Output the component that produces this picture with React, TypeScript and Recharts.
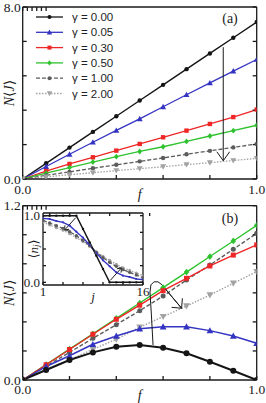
import { LineChart, Line, XAxis, YAxis, Legend, ReferenceLine } from 'recharts'

const SERIF = '"Liberation Serif", "DejaVu Serif", serif'
const SANS = '"Liberation Sans", Arial, sans-serif'
const INK = '#1a1a1a'

const F = [0, 0.1, 0.2, 0.3, 0.4, 0.5, 0.6, 0.7, 0.8, 0.9, 1]
const F_TICKS = [0, 0.2, 0.4, 0.6, 0.8, 1]

// panel (a)
const A_G000 = [0, 0.73, 1.46, 2.19, 2.92, 3.65, 4.38, 5.11, 5.84, 6.57, 7.3]
const A_G005 = [0, 0.58, 1.15, 1.71, 2.26, 2.8, 3.36, 3.92, 4.47, 5.02, 5.56]
const A_G030 = [0, 0.37, 0.7, 1.01, 1.32, 1.63, 1.94, 2.25, 2.56, 2.88, 3.23]
const A_G050 = [0, 0.27, 0.53, 0.79, 1.04, 1.28, 1.5, 1.75, 2.0, 2.25, 2.5]
const A_G100 = [0, 0.17, 0.33, 0.5, 0.66, 0.82, 0.98, 1.15, 1.31, 1.47, 1.63]
const A_G200 = [0, 0.1, 0.2, 0.29, 0.39, 0.48, 0.57, 0.67, 0.76, 0.86, 0.96]
const A_TICKS = [0, 1.6, 3.2, 4.8, 6.4, 8]
const A_ARROW = [{ x: 0.857, y: 6.13 }, { x: 0.857, y: 0.85 }]

// panel (b)
const B_G000 = [0, 0.069, 0.138, 0.19, 0.229, 0.241, 0.222, 0.184, 0.126, 0.064, 0]
const B_G005 = [0, 0.093, 0.167, 0.246, 0.303, 0.353, 0.367, 0.367, 0.34, 0.303, 0.253]
const B_G030 = [0, 0.105, 0.21, 0.315, 0.418, 0.515, 0.615, 0.7, 0.785, 0.86, 0.93]
const B_G050 = [0, 0.106, 0.213, 0.318, 0.424, 0.53, 0.636, 0.743, 0.85, 0.957, 1.065]
const B_G100 = [0, 0.095, 0.19, 0.287, 0.381, 0.477, 0.578, 0.688, 0.792, 0.9, 1.01]
const B_G200 = [0, 0.074, 0.138, 0.211, 0.28, 0.363, 0.436, 0.509, 0.585, 0.666, 0.746]
const B_TICKS = [0, 0.2, 0.4, 0.6, 0.8, 1, 1.2]
// hooked arrow (data coords)
const HOOK_F = [0.557, 0.55, 0.544, 0.548, 0.561, 0.578, 0.595, 0.608, 0.679]
const HOOK_V = [0.241, 0.448, 0.606, 0.655, 0.676, 0.676, 0.656, 0.63, 0.494]

// inset <n_j>
const J = [1, 2, 3, 4, 5, 6, 7, 8, 9, 10, 11, 12, 13, 14, 15, 16]
const N_G000 = [1, 1, 1, 1, 1, 1, 0.8, 0.6, 0.4, 0.2, 0, 0, 0, 0, 0, 0]
const N_G005 = [0.96, 0.95, 0.92, 0.9, 0.85, 0.76, 0.67, 0.56, 0.44, 0.33, 0.24, 0.15, 0.1, 0.08, 0.05, 0.04]
const N_G100 = [0.93, 0.89, 0.85, 0.81, 0.76, 0.7, 0.63, 0.55, 0.45, 0.37, 0.3, 0.24, 0.19, 0.15, 0.11, 0.07]
const N_G200 = [0.9, 0.86, 0.82, 0.78, 0.73, 0.67, 0.61, 0.54, 0.46, 0.39, 0.33, 0.27, 0.22, 0.18, 0.14, 0.1]
const J_TICKS = [1, 4, 7, 10, 13, 16]
const N_TICKS = [0, 0.25, 0.5, 0.75, 1]
const INSET_ARROWS = [
  [{ x: 5.9, y: 0.97 }, { x: 4.2, y: 0.78 }],
  [{ x: 11.1, y: 0.03 }, { x: 12.8, y: 0.22 }],
]

type Series = { key: string; name: string; color: string; shape: string; dash?: string }
const SERIES: Series[] = [
  { key: 'g000', name: 'γ = 0.00', color: '#151515', shape: 'circle' },
  { key: 'g005', name: 'γ = 0.05', color: '#3434c2', shape: 'triangle' },
  { key: 'g030', name: 'γ = 0.30', color: '#ee2626', shape: 'square' },
  { key: 'g050', name: 'γ = 0.50', color: '#2ec22e', shape: 'diamond' },
  { key: 'g100', name: 'γ = 1.00', color: '#5c5c5c', shape: 'circle', dash: '4 2' },
  { key: 'g200', name: 'γ = 2.00', color: '#a2a2a2', shape: 'triangleDown', dash: '1.5 1.5' },
]

const rowsA = F.map((f, i) => ({ f, g000: A_G000[i], g005: A_G005[i], g030: A_G030[i], g050: A_G050[i], g100: A_G100[i], g200: A_G200[i] }))
const rowsB = F.map((f, i) => ({ f, g000: B_G000[i], g005: B_G005[i], g030: B_G030[i], g050: B_G050[i], g100: B_G100[i], g200: B_G200[i] }))
const hook = HOOK_F.map((f, i) => ({ f, v: HOOK_V[i] }))
const rowsN = J.map((j, i) => ({ j, g000: N_G000[i], g005: N_G005[i], g100: N_G100[i], g200: N_G200[i] }))

const AXIS = { stroke: INK, strokeWidth: 1.3 }
const TICK = { fontSize: 13.5, fill: INK, fontFamily: SERIF }
const blank = () => ''
const ends = (lo: number, hi: number, d = 1) => (v: number) => (v === lo || v === hi ? v.toFixed(d) : '')

function Marker({ cx, cy, shape, color, r = 2.2 }: any) {
  if (cx == null || cy == null) return null
  if (shape === 'circle') return <circle cx={cx} cy={cy} r={r} fill={color} />
  if (shape === 'square') return <rect x={cx - r} y={cy - r} width={2 * r} height={2 * r} fill={color} />
  if (shape === 'diamond')
    return <polygon points={`${cx},${cy - r * 1.35} ${cx + r * 1.1},${cy} ${cx},${cy + r * 1.35} ${cx - r * 1.1},${cy}`} fill={color} />
  const d = shape === 'triangle' ? 1 : -1
  const h = r * 1.35
  return <polygon points={`${cx},${cy - d * h} ${cx - h},${cy + d * h * 0.8} ${cx + h},${cy + d * h * 0.8}`} fill={color} />
}

function Arrow({ x1, y1, x2, y2, head = 10, spread = 0.62, body = true, w = 1 }: any) {
  const a = Math.atan2(y2 - y1, x2 - x1)
  const p1 = [x2 - head * Math.cos(a - spread), y2 - head * Math.sin(a - spread)]
  const p2 = [x2 - head * Math.cos(a + spread), y2 - head * Math.sin(a + spread)]
  return (
    <g>
      {body && <line x1={x1} y1={y1} x2={x2} y2={y2} stroke={INK} strokeWidth={w} />}
      <polyline points={`${p1[0]},${p1[1]} ${x2},${y2} ${p2[0]},${p2[1]}`} fill="none" stroke={INK} strokeWidth={w} />
    </g>
  )
}

function XTitle({ viewBox, dy = 15.5, size = 14, text }: any) {
  const vb = viewBox ?? { x: 0, y: 0, width: 0, height: 0 }
  return (
    <text x={vb.x + vb.width / 2} y={vb.y + dy} textAnchor="middle" dominantBaseline="central"
      fontFamily={SERIF} fontSize={size} fontStyle="italic" fill={INK}>{text}</text>
  )
}

function NJTitle({ viewBox }: any) {
  const vb = viewBox ?? { x: 0, y: 0, width: 0, height: 0 }
  const cy = vb.y + vb.height / 2
  return (
    <text transform={`translate(9,${cy}) rotate(-90)`} textAnchor="middle" dominantBaseline="central"
      fontFamily={SERIF} fontSize={14} fill={INK}>
      <tspan fontStyle="italic">N</tspan>⟨<tspan fontStyle="italic">J</tspan>⟩
    </text>
  )
}

function NjTitle({ viewBox }: any) {
  const vb = viewBox ?? { x: 0, y: 0, width: 0, height: 0 }
  const cy = vb.y + vb.height / 2
  return (
    <text transform={`translate(33,${cy}) rotate(-90)`} textAnchor="middle" dominantBaseline="central"
      fontFamily={SERIF} fontSize={13} fill={INK}>
      ⟨<tspan fontStyle="italic">n</tspan><tspan fontStyle="italic" fontSize={9} dy={3}>j</tspan><tspan dy={-3}>⟩</tspan>
    </text>
  )
}

function LegendBox() {
  return (
    <svg width={90} height={95} style={{ display: 'block' }}>
      {SERIES.map((s, i) => {
        const y = 7 + i * 15.3
        return (
          <g key={s.key}>
            <line x1={0} x2={27} y1={y} y2={y} stroke={s.color} strokeWidth={1.3} strokeDasharray={s.dash} />
            <Marker cx={13.5} cy={y} shape={s.shape} color={s.color} r={2} />
            <text x={36} y={y} dominantBaseline="central" fontFamily={SANS} fontSize={11.5} fill="#222">{s.name}</text>
          </g>
        )
      })}
    </svg>
  )
}

function Tag({ x, y, text }: { x: number; y: number; text: string }) {
  return (
    <div style={{ position: 'absolute', left: x, top: y, transform: 'translate(-50%, -50%)', fontFamily: SERIF, fontSize: 14, color: INK, lineHeight: 1 }}>
      {text}
    </div>
  )
}

// axes have 1px thickness so that they render; margins shrink by the same 1px
export default function App() {
  return (
    <div style={{ position: 'absolute', left: 0, top: 0, width: 266, height: 403, background: '#fff' }}>
      <div style={{ position: 'absolute', left: 0, top: 0 }}>
        <LineChart width={266} height={204} data={rowsA} margin={{ top: 6, right: 8.3, bottom: 24, left: 21.7 }}>
          <XAxis dataKey="f" type="number" domain={[0, 1]} allowDataOverflow ticks={F_TICKS} interval={0}
            tickFormatter={ends(0, 1)} tickSize={-4} tickMargin={9} height={1} tick={TICK} axisLine={AXIS} tickLine={AXIS}
            label={<XTitle text="f" dy={15} />} />
          <XAxis xAxisId="top" orientation="top" type="number" domain={[0, 1]} allowDataOverflow ticks={F_TICKS} interval={0}
            tickFormatter={blank} tickSize={-4} height={1} axisLine={AXIS} tickLine={AXIS} />
          <YAxis type="number" domain={[0, 8]} allowDataOverflow ticks={A_TICKS} interval={0}
            tickFormatter={ends(0, 8)} tickSize={-4} tickMargin={6} width={1} tick={TICK} axisLine={AXIS} tickLine={AXIS}
            label={<NJTitle />} />
          <YAxis yAxisId="right" orientation="right" type="number" domain={[0, 8]} allowDataOverflow ticks={A_TICKS} interval={0}
            tickFormatter={blank} tickSize={-4} width={1} axisLine={AXIS} tickLine={AXIS} />
          <Legend layout="vertical" align="center" verticalAlign="middle" content={<LegendBox />}
            wrapperStyle={{ left: 36, top: 9.5, width: 90, height: 95 }} />
          {SERIES.map((s) => (
            <Line key={s.key} dataKey={s.key} name={s.name} stroke={s.color} strokeWidth={s.key === 'g000' ? 1.4 : 1.3}
              strokeDasharray={s.dash} isAnimationActive={false}
              dot={(p: any) => <Marker key={`a-${s.key}-${p.index}`} cx={p.cx} cy={p.cy} shape={s.shape} color={s.color} r={2.2} />} />
          ))}
          <ReferenceLine segment={A_ARROW} ifOverflow="visible"
            shape={(p: any) => <Arrow x1={p.x1} y1={p.y1} x2={p.x2} y2={p.y2} head={11} spread={0.62} w={1} />} />
        </LineChart>
      </div>

      <div style={{ position: 'absolute', left: 0, top: 192 }}>
        <LineChart width={266} height={211} data={rowsB} margin={{ top: 12.7, right: 8.3, bottom: 22, left: 21.7 }}>
          <XAxis dataKey="f" type="number" domain={[0, 1]} allowDataOverflow ticks={F_TICKS} interval={0}
            tickFormatter={ends(0, 1)} tickSize={-4} tickMargin={8} height={1} tick={TICK} axisLine={AXIS} tickLine={AXIS}
            label={<XTitle text="f" dy={15} />} />
          <XAxis xAxisId="top" orientation="top" type="number" domain={[0, 1]} allowDataOverflow ticks={F_TICKS} interval={0}
            tickFormatter={blank} tickSize={-4} height={1} axisLine={AXIS} tickLine={AXIS} />
          <YAxis type="number" domain={[0, 1.2]} allowDataOverflow ticks={B_TICKS} interval={0}
            tickFormatter={ends(0, 1.2)} tickSize={-4} tickMargin={6} width={1} tick={TICK} axisLine={AXIS} tickLine={AXIS}
            label={<NJTitle />} />
          <YAxis yAxisId="right" orientation="right" type="number" domain={[0, 1.2]} allowDataOverflow ticks={B_TICKS} interval={0}
            tickFormatter={blank} tickSize={-4} width={1} axisLine={AXIS} tickLine={AXIS} />
          {[...SERIES].reverse().map((s) => (
            <Line key={s.key} dataKey={s.key} name={s.name} stroke={s.color} strokeWidth={s.key === 'g000' ? 2 : 1.4}
              strokeDasharray={s.dash} isAnimationActive={false}
              dot={(p: any) => (
                <Marker key={`b-${s.key}-${p.index}`} cx={p.cx} cy={p.cy} shape={s.shape} color={s.color} r={s.key === 'g000' ? 3 : 2.5} />
              )} />
          ))}
          <Line data={hook} dataKey="v" stroke={INK} strokeWidth={1} dot={false} isAnimationActive={false} />
          <ReferenceLine segment={[{ x: HOOK_F[7], y: HOOK_V[7] }, { x: HOOK_F[8], y: HOOK_V[8] }]} ifOverflow="visible"
            shape={(p: any) => <Arrow x1={p.x1} y1={p.y1} x2={p.x2} y2={p.y2} head={10} spread={0.78} w={1} />} />
        </LineChart>
      </div>

      <div style={{ position: 'absolute', left: 0, top: 200 }}>
        <LineChart width={160} height={110} data={rowsN} margin={{ top: 12, right: 16, bottom: 24, left: 42 }}>
          <XAxis dataKey="j" type="number" domain={[1, 16]} allowDataOverflow ticks={J_TICKS} interval={0}
            tickFormatter={ends(1, 16, 0)} tickSize={-3} tickMargin={5} height={1} tick={{ ...TICK, fontSize: 13 }}
            axisLine={AXIS} tickLine={AXIS} label={<XTitle text="j" dy={11} size={13} />} />
          <XAxis xAxisId="top" orientation="top" type="number" domain={[1, 16]} allowDataOverflow ticks={J_TICKS} interval={0}
            tickFormatter={blank} tickSize={-3} height={1} axisLine={AXIS} tickLine={AXIS} />
          <YAxis type="number" domain={[-0.04, 1.04]} allowDataOverflow ticks={N_TICKS} interval={0}
            tickFormatter={ends(0, 1)} tickSize={-3} tickMargin={6} width={1} tick={{ ...TICK, fontSize: 13 }}
            axisLine={AXIS} tickLine={AXIS} label={<NjTitle />} />
          <YAxis yAxisId="right" orientation="right" type="number" domain={[-0.04, 1.04]} allowDataOverflow ticks={N_TICKS} interval={0}
            tickFormatter={blank} tickSize={-3} width={1} axisLine={AXIS} tickLine={AXIS} />
          <Line dataKey="g200" stroke="#a2a2a2" strokeWidth={1.3} strokeDasharray="1.5 1.5" isAnimationActive={false}
            dot={(p: any) => <Marker key={`n200-${p.index}`} cx={p.cx} cy={p.cy} shape="circle" color="#a2a2a2" r={1.5} />} />
          <Line dataKey="g100" stroke="#5c5c5c" strokeWidth={1.3} strokeDasharray="4 2" isAnimationActive={false}
            dot={(p: any) => <Marker key={`n100-${p.index}`} cx={p.cx} cy={p.cy} shape="circle" color="#5c5c5c" r={1.7} />} />
          <Line dataKey="g005" stroke="#3434c2" strokeWidth={1.4} isAnimationActive={false}
            dot={(p: any) => <Marker key={`n005-${p.index}`} cx={p.cx} cy={p.cy} shape="circle" color="#3434c2" r={1.1} />} />
          <Line dataKey="g000" stroke="#151515" strokeWidth={1.5} isAnimationActive={false}
            dot={(p: any) => <Marker key={`n000-${p.index}`} cx={p.cx} cy={p.cy} shape="circle" color="#151515" r={1.2} />} />
          {INSET_ARROWS.map((seg, i) => (
            <ReferenceLine key={i} segment={seg} ifOverflow="visible"
              shape={(p: any) => <Arrow x1={p.x1} y1={p.y1} x2={p.x2} y2={p.y2} head={5} spread={0.6} w={1} />} />
          ))}
        </LineChart>
      </div>

      <Tag x={230} y={19} text="(a)" />
      <Tag x={230} y={219} text="(b)" />
    </div>
  )
}
